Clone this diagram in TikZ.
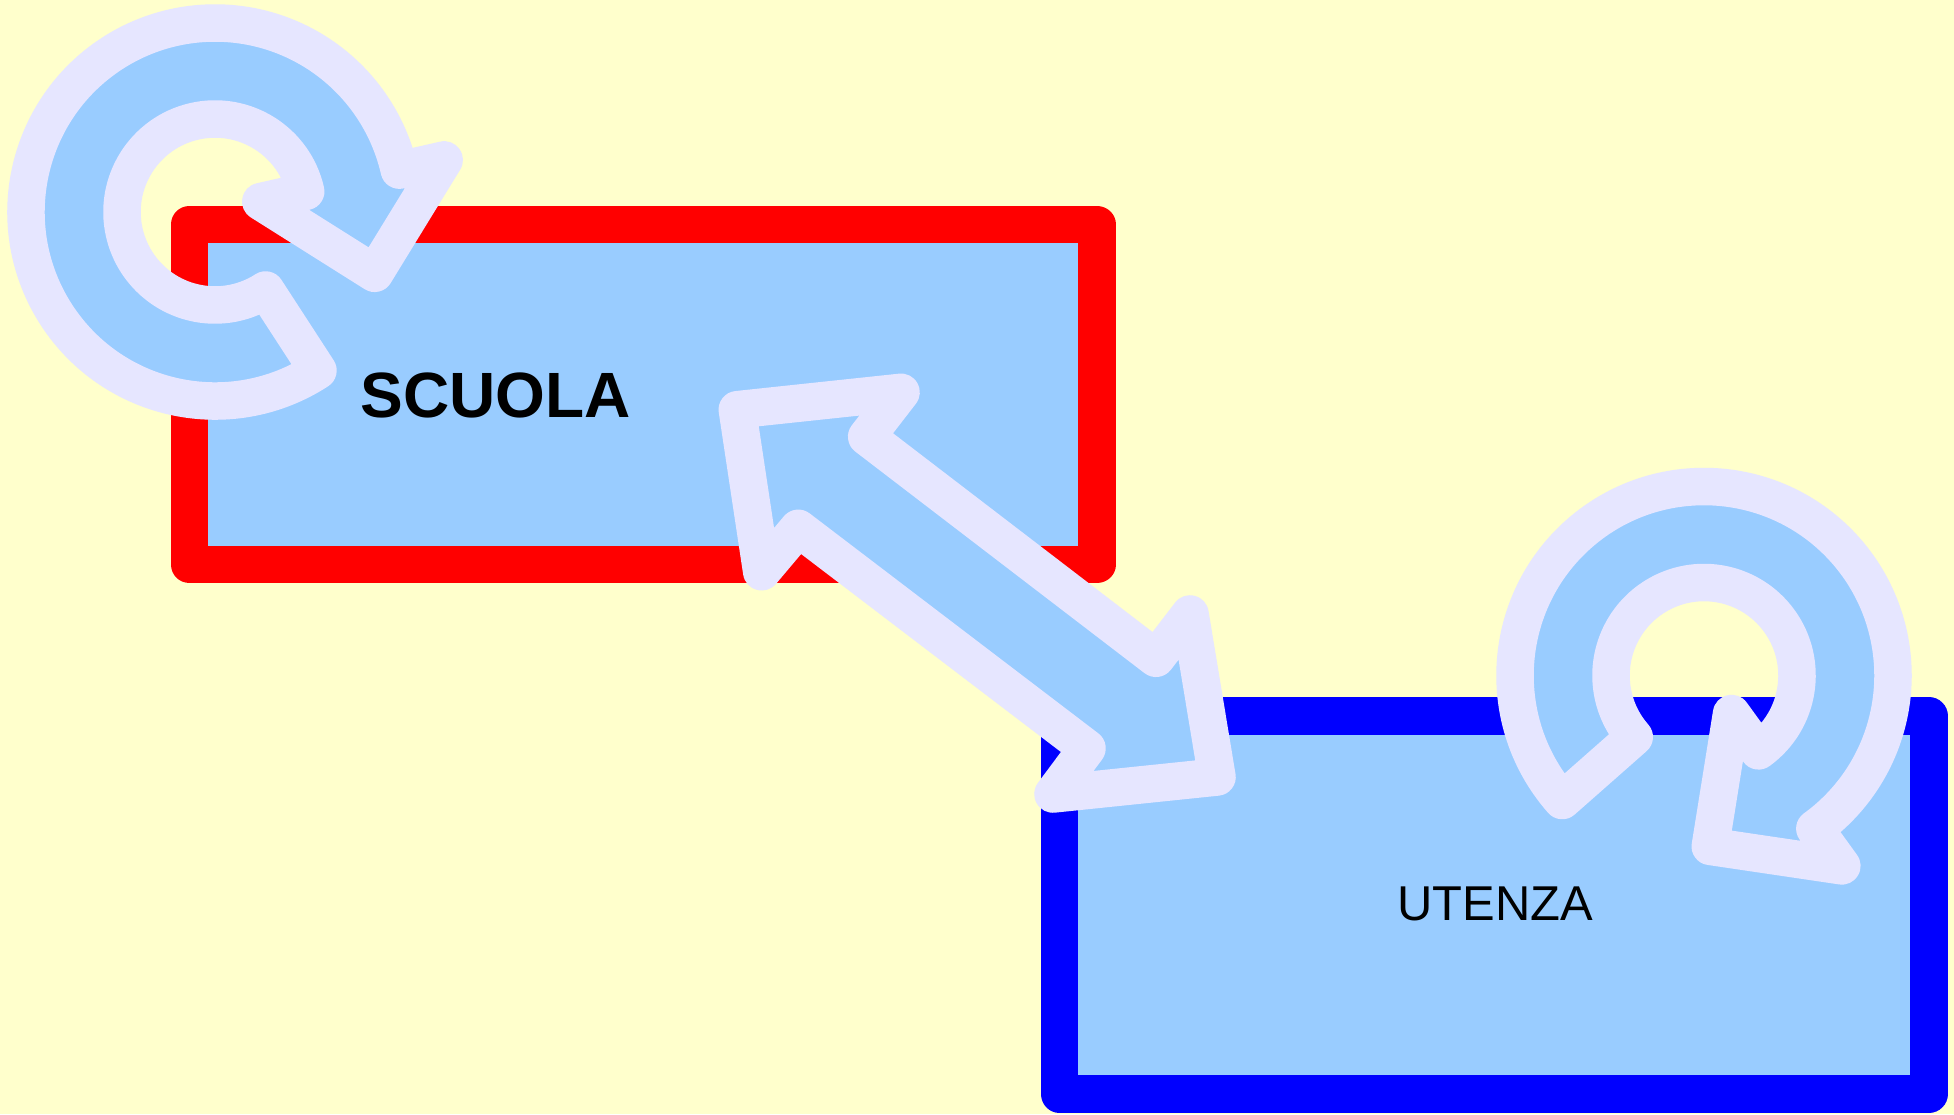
\documentclass[tikz,border=0pt]{standalone}
\usepackage{fontspec}
\setmainfont{Liberation Sans}
\usetikzlibrary{calc}
\definecolor{bgyellow}{HTML}{FFFFCC}
\definecolor{fillblue}{HTML}{99CCFF}
\definecolor{lav}{HTML}{E6E6FF}
\begin{document}
\begin{tikzpicture}[x=1pt,y=-1pt,
  box/.style={draw=#1, fill=fillblue, line width=37.5pt, line join=round, inner sep=0pt, outer sep=0pt},
  blockarrow/.style={draw=lav, fill=fillblue, line width=37.5pt, line join=round},
  lbl/.style={inner sep=0pt, anchor=base, text=black}]
\fill[bgyellow] (0,0) rectangle (1954,1114);
\useasboundingbox (0,0) rectangle (1954,1114);
% boxes
\node[box=red, minimum width=907.5pt, minimum height=340pt] (scuola) at (643.25,394.5) {};
\node[box=blue, minimum width=869.5pt, minimum height=378pt] (utenza) at (1494.25,905) {};
% labels
\node[lbl, font=\bfseries\fontsize{64}{64}\selectfont] (scuolatxt) at (495.5,417) {SCUOLA};
\node[lbl, font=\fontsize{48.9}{49}\selectfont] (utenzatxt) at (1495.4,920.7) {UTENZA};
% circular arrow on SCUOLA
\coordinate (c1) at (215,212);
\draw[blockarrow] ($(c1)+(57:189)$) arc[start angle=57, end angle=347.2, radius=189]
  -- ($(c1)+(347.2:235)$) -- ($(c1)+(21:171)$) -- ($(c1)+(347.2:47)$)
  -- ($(c1)+(347.2:93)$) arc[start angle=347.2, end angle=57, radius=93] -- cycle;
% double arrow between SCUOLA and UTENZA
\coordinate (tipA) at (737.3,409.7);
\coordinate (barbA1) at (901,392.3);
\coordinate (notchA1) at (866.7,436.7);
\coordinate (notchB1) at (1156,658.3);
\coordinate (barbB1) at (1190,614);
\coordinate (tipB) at (1217,777);
\coordinate (barbB2) at (1053,794);
\coordinate (notchB2) at (1087,748.3);
\coordinate (notchA2) at (798.3,528.3);
\coordinate (barbA2) at (761.7,571.7);
\draw[blockarrow] (tipA) -- (barbA1) -- (notchA1) -- (notchB1) -- (barbB1) -- (tipB)
  -- (barbB2) -- (notchB2) -- (notchA2) -- (barbA2) -- cycle;
% circular arrow on UTENZA
\coordinate (c2) at (1704,675.5);
\draw[blockarrow] ($(c2)+(138.6:189)$) arc[start angle=138.6, end angle=414.1, radius=189]
  -- ($(c2)+(414.1:235)$) -- ($(c2)+(87.9:171)$) -- ($(c2)+(414.1:47)$)
  -- ($(c2)+(414.1:93)$) arc[start angle=414.1, end angle=138.6, radius=93] -- cycle;
\end{tikzpicture}
\end{document}
